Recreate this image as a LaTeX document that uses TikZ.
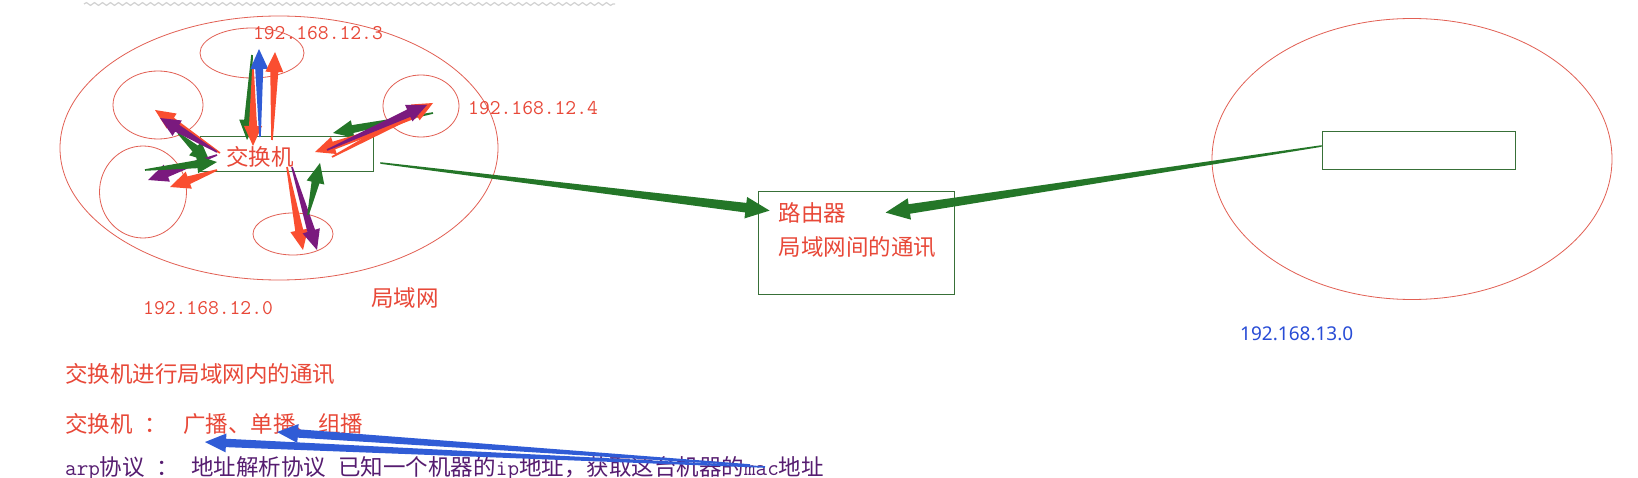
\documentclass[tikz,border=0pt]{standalone}
\usepackage{fontspec}
\newfontfamily\cjk{Noto Sans CJK SC}
\newfontfamily\ipfont{Noto Sans}
\usetikzlibrary{shapes.geometric,calc,positioning,decorations.pathmorphing}

\definecolor{lanred}{RGB}{232,72,56}
\definecolor{lanline}{RGB}{226,96,84}
\definecolor{boxgreen}{RGB}{56,112,56}
\definecolor{arrgreen}{RGB}{36,118,40}
\definecolor{arrred}{RGB}{250,78,48}
\definecolor{arrpurple}{RGB}{122,26,126}
\definecolor{arrblue}{RGB}{48,92,214}
\definecolor{netblue}{RGB}{40,76,214}
\definecolor{arppurple}{RGB}{86,28,112}

\tikzset{
  host/.style={ellipse, draw=lanline, line width=0.8pt, inner sep=0pt},
  box/.style={rectangle, draw=boxgreen, line width=0.8pt, inner sep=0pt},
  lbl/.style={text=lanred, inner sep=0pt, font=\cjk\fontsize{22.5pt}{34pt}\selectfont},
  ip/.style={text=lanred, inner sep=0pt, font=\ttfamily\fontsize{21pt}{24pt}\selectfont},
}

% fat tapered arrow: [size]{colour}{from}{offset}{to}{offset}
\newcommand{\fatarrow}[6][1]{%
  \coordinate (fa-s) at ($(#3)+(#4)$);
  \coordinate (fa-e) at ($(#5)+(#6)$);
  \coordinate (fa-n) at ($(fa-e)!#1*20pt!(fa-s)$);
  \fill[#2] ($(fa-s)!0.8pt!90:(fa-e)$) -- ($(fa-n)!#1*4pt!90:(fa-e)$)
    -- ($(fa-n)!#1*9pt!90:(fa-e)$) -- (fa-e) -- ($(fa-n)!#1*9pt!-90:(fa-e)$)
    -- ($(fa-n)!#1*4pt!-90:(fa-e)$) -- ($(fa-s)!0.8pt!-90:(fa-e)$) -- cycle;
}

\begin{document}
\begin{tikzpicture}[x=1pt, y=-1pt]
    % Page
    \fill[white] (0,0) rectangle (1638,478);
    \useasboundingbox (0,0) rectangle (1638,478);
    \draw[gray!35, line width=1.2pt, decorate,
      decoration={snake, amplitude=1.4pt, segment length=8pt}] (84,4) -- (615,4);

    % LAN 192.168.12.0
    \node[host, minimum width=438pt, minimum height=264pt] (lan) at (279,148) {};
    \node[host, minimum width=104pt, minimum height=50pt] (top) at (252,53) {};
    \node[host, minimum width=90pt, minimum height=68pt] (ul) at (158,105) {};
    \node[host, minimum width=87pt, minimum height=92pt] (ll) at (143,192) {};
    \node[host, minimum width=76pt, minimum height=62pt] (rt) at (421,106) {};
    \node[host, minimum width=80pt, minimum height=42pt] (bt) at (293,234) {};
    \node[box, minimum width=173pt, minimum height=35pt] (sw) at (286.5,153.5) {};

    % Router
    \node[box, minimum width=196pt, minimum height=103pt] (router) at (856,242.5) {};

    % LAN 192.168.13.0
    \node[host, minimum width=400pt, minimum height=281pt] (lan2) at (1412,159) {};
    \node[box, minimum width=193pt, minimum height=38pt] (sw2) at (1418.5,150) {};

    % Switch traffic
    \fatarrow{arrgreen}{top}{0,2}{sw}{-39.5,-13.5}
    \fatarrow{arrred}{top}{1,15}{sw}{-33.5,-7.5}
    \fatarrow{arrblue}{sw}{-26.5,-16.5}{top}{7,-4}
    \fatarrow{arrred}{sw}{-14.5,-13.5}{top}{23,-1}
    \fatarrow{arrred}{sw}{-66.5,-0.5}{ul}{-3,5}
    \fatarrow{arrgreen}{ul}{20,28}{sw}{-76.5,8.5}
    \fatarrow{arrpurple}{sw}{-69.5,-1.5}{ul}{2,13}
    \fatarrow{arrred}{sw}{-69.5,16.5}{ll}{27,-5}
    \fatarrow{arrpurple}{sw}{-69.5,1.5}{ll}{5,-12}
    \fatarrow{arrgreen}{ll}{2,-22}{sw}{-69.5,8.5}
    \fatarrow{arrgreen}{rt}{12,7}{sw}{46.5,-20.5}
    \fatarrow{arrred}{rt}{-4,11}{sw}{28.5,-1.5}
    \fatarrow{arrred}{sw}{45.5,3.5}{rt}{12,-3}
    \fatarrow{arrpurple}{sw}{40.5,-3.5}{rt}{6,-1}
    \fatarrow{arrred}{sw}{0.5,13.5}{bt}{10,16}
    \fatarrow{arrpurple}{sw}{5.5,13.5}{bt}{24,16}
    \fatarrow{arrgreen}{bt}{15,-19}{sw}{33.5,9.5}

    % Links to the router
    \fatarrow[1.2]{arrgreen}{sw.east}{7,9.5}{router.north west}{12,20}
    \fatarrow[1.2]{arrgreen}{sw2.west}{0,-4}{router.north west}{128,22}

    % Labels
    \node[lbl] (swname) at (260,157) {交换机};
    \node[ip] (ip3) at (318,33) {192.168.12.3};
    \node[ip, anchor=west] (ip4) at (468,108) {192.168.12.4};
    \node[ip, anchor=west] (ip0) at (143,308) {192.168.12.0};
    \node[lbl, anchor=west] (lanname) at (371,298) {局域网};
    \node[lbl, align=left, anchor=north west, below right=12pt and 21pt of router.north west]
      (routername) {路由器\\局域网间的通讯};
    \node[text=netblue, inner sep=0pt, anchor=west, font=\ipfont\fontsize{19pt}{22pt}\selectfont]
      (net2) at (1240,334) {192.168.13.0};

    % Notes
    \node[lbl, anchor=west] (note1) at (65,374) {交换机进行局域网内的通讯};
    \node[lbl, anchor=west] (note2) at (65,424) {交换机\hspace{12pt}：\hspace{16pt}广播、单播、组播};
    \node[lbl, text=arppurple, anchor=west] (note3) at (65,468)
      {{\ttfamily arp}协议\hspace{12pt}：\hspace{12pt}地址解析协议\hspace{12pt}已知一个机器的{\ttfamily ip}地址，获取这台机器的{\ttfamily mac}地址};
    \fatarrow[1.05]{arrblue}{note3.west}{700,-1}{note2.west}{140,18}
    \fatarrow[1.05]{arrblue}{note3.west}{685,-3}{note2.west}{212,8}
\end{tikzpicture}
\end{document}
